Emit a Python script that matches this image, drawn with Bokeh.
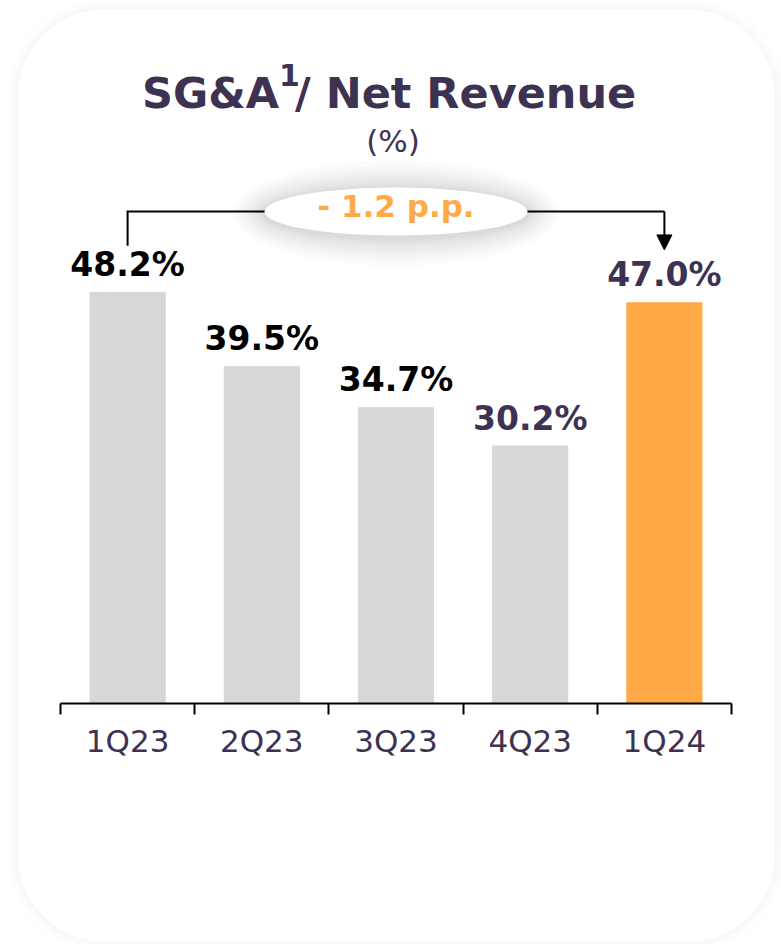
import numpy as np
from bokeh.plotting import figure
from bokeh.models import Range1d, FixedTicker, Arrow, NormalHead, ColumnDataSource
from bokeh.core.properties import value
from bokeh.embed import file_html
from bokeh.resources import INLINE

# ---- data ----
categories = ["1Q23", "2Q23", "3Q23", "4Q23", "1Q24"]
sga_ratio = [48.2, 39.5, 34.7, 30.2, 47.0]
delta_label = "- 1.2 p.p."
title_main = "SG&A"
title_sup = "1"
title_rest = "/ Net Revenue"
subtitle = "(%)"

# ---- styles ----
PURPLE = "#3d3252"
ORANGE = "#ffa947"
GREY = "#d6d7d9"
bar_colors = [GREY, GREY, GREY, GREY, ORANGE]
label_colors = ["#000000", "#000000", "#000000", PURPLE, PURPLE]
FONT = value("DejaVu Sans")

x_pos = np.arange(len(categories)) + 0.5
labels = [f"{v:.1f}%" for v in sga_ratio]

src = ColumnDataSource(dict(x=x_pos, top=sga_ratio, color=bar_colors,
                            label=labels, label_color=label_colors))

W, H = 757, 933
p = figure(width=W, height=H, output_backend="svg", toolbar_location=None,
           x_range=Range1d(0, len(categories)), y_range=Range1d(0, 81.4),
           y_axis_location=None, min_border_left=42, min_border_right=44,
           min_border_top=0, min_border_bottom=239)
p.grid.visible = False
p.outline_line_color = None
p.background_fill_color = "white"
p.border_fill_color = "white"
p.styles = {"margin-left": "18px", "margin-top": "9px", "border-radius": "88px",
            "overflow": "hidden", "box-shadow": "0 0 16px rgba(0,0,0,0.07)"}

# axis: labels at centres, tick marks at category boundaries
ax = p.xaxis[0]
ax.ticker = FixedTicker(ticks=list(x_pos), minor_ticks=list(range(len(categories) + 1)))
ax.major_label_overrides = {float(x): c for x, c in zip(x_pos, categories)}
ax.major_tick_line_color = None
ax.major_tick_out = 0
ax.major_tick_in = 0
ax.minor_tick_in = 0
ax.minor_tick_out = 11
ax.minor_tick_line_color = "black"
ax.minor_tick_line_width = 2
ax.axis_line_color = "black"
ax.axis_line_width = 2
ax.major_label_standoff = 8
ax.major_label_text_font = "DejaVu Sans"
ax.major_label_text_font_size = "31px"
ax.major_label_text_color = PURPLE

# bars
p.vbar(x="x", top="top", width=0.56, color="color", source=src)
p.text(x="x", y="top", text="label", text_color="label_color", source=src,
       text_align="center", text_baseline="middle", y_offset=-28,
       text_font=FONT, text_font_style="bold", text_font_size="33px")

# bracket
y_br = 57.7
p.line(x=[x_pos[0], x_pos[0], x_pos[-1]], y=[53.7, y_br, y_br],
       line_color="black", line_width=2, line_join="miter")
p.add_layout(Arrow(x_start=x_pos[-1], y_start=y_br, x_end=x_pos[-1], y_end=53.2,
                   line_color="black", line_width=2,
                   end=NormalHead(size=15, fill_color="black", line_color="black")))

# ellipse with soft shadow
xc = len(categories) / 2
for grow in [64, 54, 45, 37, 29, 22, 16, 11, 6]:
    p.ellipse(x=[xc], y=[y_br - 0.2], width=263 + grow, height=48 + grow * 0.9,
              width_units="screen", height_units="screen",
              fill_color="black", fill_alpha=0.017, line_color=None)
p.ellipse(x=[xc], y=[y_br], width=263, height=48, width_units="screen",
          height_units="screen", fill_color="white", line_color=None)
p.text(x=[xc], y=[58.35], text=[delta_label], text_align="center",
       text_baseline="middle", text_color=ORANGE, text_font=FONT,
       text_font_style="bold", text_font_size="31px")

# title
p.text(x=[xc], y=[71.66], text=[title_main], text_align="left", x_offset=-254,
       text_baseline="middle", text_color=PURPLE, text_font=FONT,
       text_font_style="bold", text_font_size="43px")
p.text(x=[xc], y=[73.77], text=[title_sup], text_align="left", x_offset=-117,
       text_baseline="middle", text_color=PURPLE, text_font=FONT,
       text_font_style="bold", text_font_size="30px")
p.text(x=[xc], y=[71.66], text=[title_rest], text_align="left", x_offset=-101,
       text_baseline="middle", text_color=PURPLE, text_font=FONT,
       text_font_style="bold", text_font_size="43px")
p.text(x=[xc], y=[65.92], text=[subtitle], text_align="center", x_offset=-3,
       text_baseline="middle", text_color=PURPLE, text_font=FONT,
       text_font_size="31px")

html = file_html(p, INLINE)
html = html.replace("<body>", '<body style="background-color:#f4f4f4;">', 1)
open("out.html", "w").write(html)
